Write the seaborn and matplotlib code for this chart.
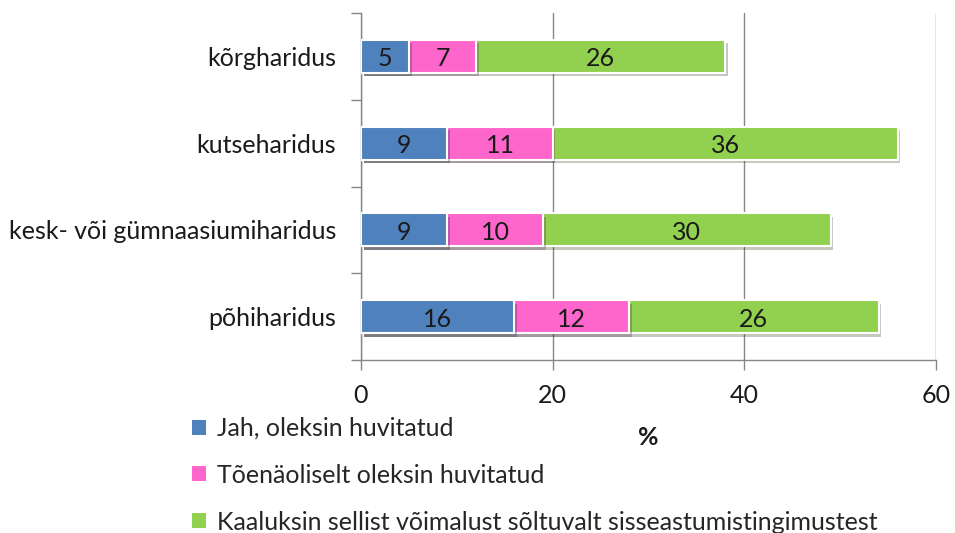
import matplotlib
matplotlib.use("Agg")
import matplotlib.pyplot as plt
import matplotlib.patheffects as pe
from matplotlib.patches import Patch
from matplotlib.ticker import FixedLocator
import seaborn as sns
import pandas as pd

categories = ["kõrgharidus", "kutseharidus", "kesk- või gümnaasiumiharidus", "põhiharidus"]
series_names = ["Jah, oleksin huvitatud", "Tõenäoliselt oleksin huvitatud",
                "Kaaluksin sellist võimalust sõltuvalt sisseastumistingimustest"]
jah = [5, 9, 9, 16]
toen = [7, 11, 10, 12]
kaal = [26, 36, 30, 26]
colors = ["#4F81BD", "#FF66CC", "#92D050"]
xticks = [0, 20, 40, 60]

sns.set_theme(style="white")
plt.rcParams['font.family'] = ['Lato', 'DejaVu Sans']

FS = 18
TXT = "#1a1a1a"

df = pd.DataFrame({"cat": categories, "a": jah, "b": toen, "c": kaal})
df["ab"] = df["a"] + df["b"]
df["abc"] = df["ab"] + df["c"]

fig = plt.figure(figsize=(9.55, 5.33), dpi=100)
ax = fig.add_axes([361/955, 1-360/533, (936-361)/955, (360-13)/533])

shadow = [pe.SimplePatchShadow(offset=(2, -2.5), alpha=0.28, rho=0.3), pe.Normal()]
for col, c in zip(["abc", "ab", "a"], colors[::-1]):
    sns.barplot(data=df, x=col, y="cat", order=categories, color=c, orient="h",
                width=0.38, edgecolor="white", linewidth=1.5, ax=ax, saturation=1,
                zorder=3)
for p in ax.patches:
    p.set_path_effects(shadow)

for i, row in df.iterrows():
    starts = [0, row["a"], row["ab"]]
    vals = [row["a"], row["b"], row["c"]]
    for s, v in zip(starts, vals):
        ax.text(s + v/2, i + 0.03, f"{v}", ha="center", va="center", fontsize=FS,
                color=TXT, zorder=5)

ax.set_xlim(0, 60)
ax.set_ylim(3.5, -0.5)
ax.xaxis.set_major_locator(FixedLocator(xticks))
ax.grid(axis="x", color="#868686", linewidth=1, zorder=0)
ax.set_axisbelow(True)
for s in ["top", "right"]:
    ax.spines[s].set_visible(False)
for s in ["left", "bottom"]:
    ax.spines[s].set_color("#868686")
    ax.spines[s].set_linewidth(1)

ax.set_yticks(range(len(categories)))
ax.set_yticklabels(categories, fontsize=FS, color=TXT)
ax.yaxis.set_minor_locator(FixedLocator([-0.5, 0.5, 1.5, 2.5, 3.5]))
ax.tick_params(axis="y", which="major", length=0, pad=18)
ax.tick_params(axis="y", which="minor", length=7, color="#868686", width=1, left=True)
ax.tick_params(axis="x", which="major", length=7, color="#868686", width=1, bottom=True,
               labelsize=FS, labelcolor=TXT, pad=10)
ax.set_xlabel("%", fontsize=FS, fontweight="bold", color=TXT, labelpad=14)
ax.set_ylabel("")

handles = [Patch(facecolor=c, edgecolor="none") for c in colors]
fig.legend(handles, series_names, loc="upper left", bbox_to_anchor=(192/955, 1-417/533),
           frameon=False, fontsize=FS, handlelength=0.55, handleheight=0.55,
           handletextpad=0.45, labelspacing=0.95, borderaxespad=0, borderpad=0)

fig.savefig("out.png", dpi=100)
